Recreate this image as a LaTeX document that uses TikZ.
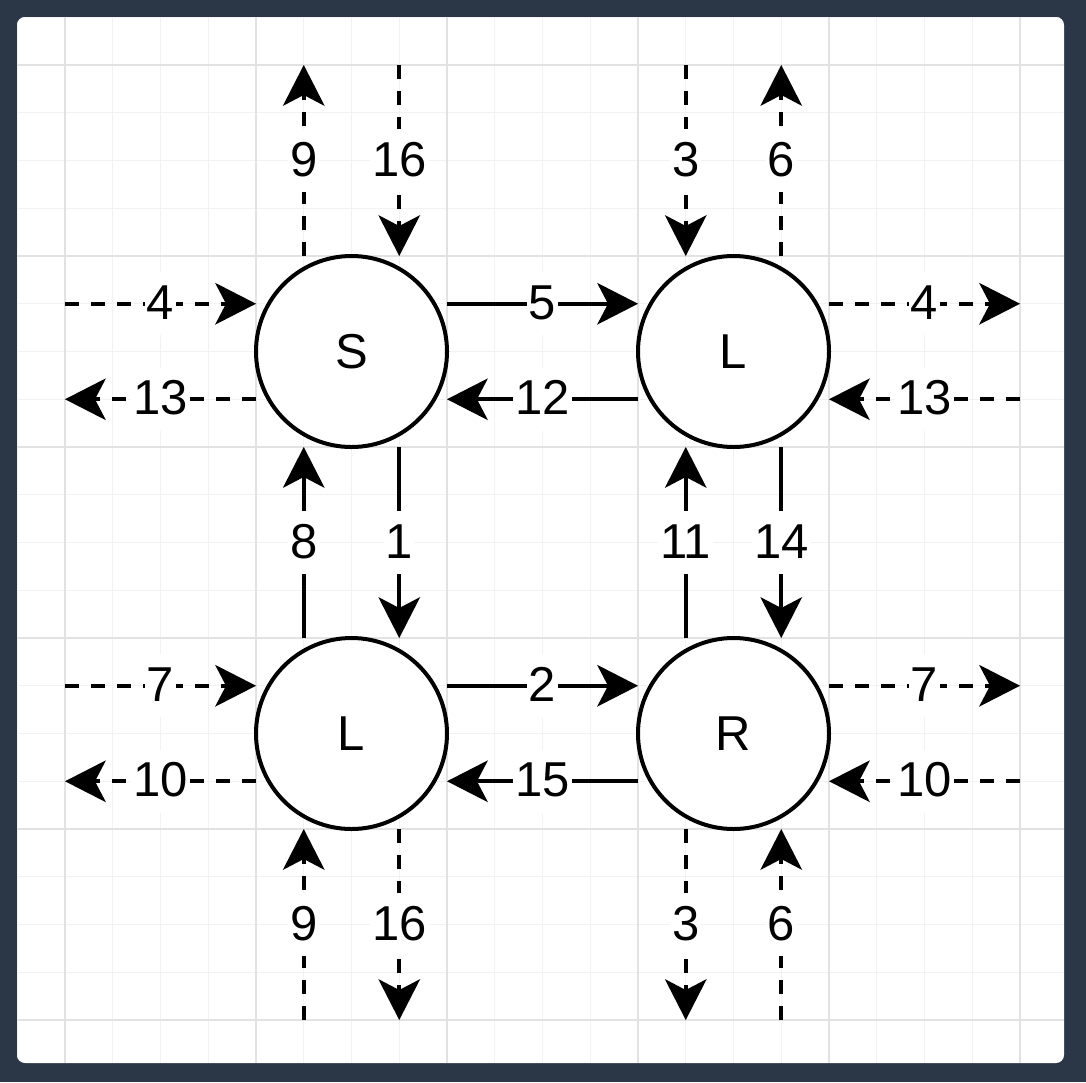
\documentclass[tikz,border=0pt]{standalone}
\usepackage{fontspec}
\setmainfont{Liberation Sans}
\usetikzlibrary{arrows.meta}
\definecolor{bgnavy}{HTML}{2B3646}
\definecolor{gridmajor}{HTML}{E2E2E2}
\definecolor{gridminor}{HTML}{F2F2F2}
\begin{document}
\begin{tikzpicture}[x=1pt,y=-1pt,
  state/.style={circle,draw=black,fill=white,line width=4pt,minimum size=191pt,inner sep=0pt,font=\fontsize{49}{56}\selectfont},
  flow/.style={line width=4pt,-{Stealth[length=41pt,width=42pt,inset=11pt,line width=0pt]}},
  ext/.style={flow,dash pattern=on 14pt off 12pt},
  lbl/.style={fill=white,inner xsep=2pt,inner ysep=11pt,text height=36pt,text depth=5pt,font=\fontsize{49}{56}\selectfont}]
\useasboundingbox (0,0) rectangle (1086,1082);
\fill[bgnavy] (0,0) rectangle (1086,1082);
\fill[white,rounded corners=8pt] (17,17) rectangle (1064,1063);
\begin{scope}
  \clip[rounded corners=8pt] (17,17) rectangle (1064,1063);
  \foreach \k in {0,...,22} {
    \draw[gridminor,line width=1.3pt] ({17.25+47.75*\k},17) -- ({17.25+47.75*\k},1063);
    \draw[gridminor,line width=1.3pt] (17,{17.25+47.75*\k}) -- (1064,{17.25+47.75*\k});
  }
  \foreach \k in {1,5,9,13,17,21} {
    \draw[gridmajor,line width=1.3pt] ({17.25+47.75*\k},17) -- ({17.25+47.75*\k},1063);
    \draw[gridmajor,line width=1.3pt] (17,{17.25+47.75*\k}) -- (1064,{17.25+47.75*\k});
  }
\end{scope}
% end-point coordinates
\foreach \i/\v in {0/65,1/256,2/447,3/638,4/829,5/1020} {
  \foreach \n/\w in {u1/303.75,d1/399.25,u2/685.75,d2/781.25} {
    \coordinate (H\i\n) at (\v,\w);
  }
  \foreach \n/\w in {a/303.75,b/399.25,c/685.75,d/781.25} {
    \coordinate (V\n\i) at (\w,\v);
  }
}
% states
\node[state] (S)  at (351.5,351.5) {S};
\node[state] (L1) at (733.5,351.5) {L};
\node[state] (L2) at (351.5,733.5) {L};
\node[state] (R)  at (733.5,733.5) {R};
% row 1
\draw[ext]  (H0u1) -- node[lbl]{4}  (H1u1);
\draw[ext]  (H1d1) -- node[lbl]{13} (H0d1);
\draw[flow] (H2u1) -- node[lbl]{5}  (H3u1);
\draw[flow] (H3d1) -- node[lbl]{12} (H2d1);
\draw[ext]  (H4u1) -- node[lbl]{4}  (H5u1);
\draw[ext]  (H5d1) -- node[lbl]{13} (H4d1);
% row 2
\draw[ext]  (H0u2) -- node[lbl]{7}  (H1u2);
\draw[ext]  (H1d2) -- node[lbl]{10} (H0d2);
\draw[flow] (H2u2) -- node[lbl]{2}  (H3u2);
\draw[flow] (H3d2) -- node[lbl]{15} (H2d2);
\draw[ext]  (H4u2) -- node[lbl]{7}  (H5u2);
\draw[ext]  (H5d2) -- node[lbl]{10} (H4d2);
% column 1
\draw[ext]  (Va1) -- node[lbl]{9}  (Va0);
\draw[ext]  (Vb0) -- node[lbl]{16} (Vb1);
\draw[flow] (Va3) -- node[lbl]{8}  (Va2);
\draw[flow] (Vb2) -- node[lbl]{1}  (Vb3);
\draw[ext]  (Va5) -- node[lbl]{9}  (Va4);
\draw[ext]  (Vb4) -- node[lbl]{16} (Vb5);
% column 2
\draw[ext]  (Vc0) -- node[lbl]{3}  (Vc1);
\draw[ext]  (Vd1) -- node[lbl]{6}  (Vd0);
\draw[flow] (Vc3) -- node[lbl]{11} (Vc2);
\draw[flow] (Vd2) -- node[lbl]{14} (Vd3);
\draw[ext]  (Vc4) -- node[lbl]{3}  (Vc5);
\draw[ext]  (Vd5) -- node[lbl]{6}  (Vd4);
\end{tikzpicture}
\end{document}
